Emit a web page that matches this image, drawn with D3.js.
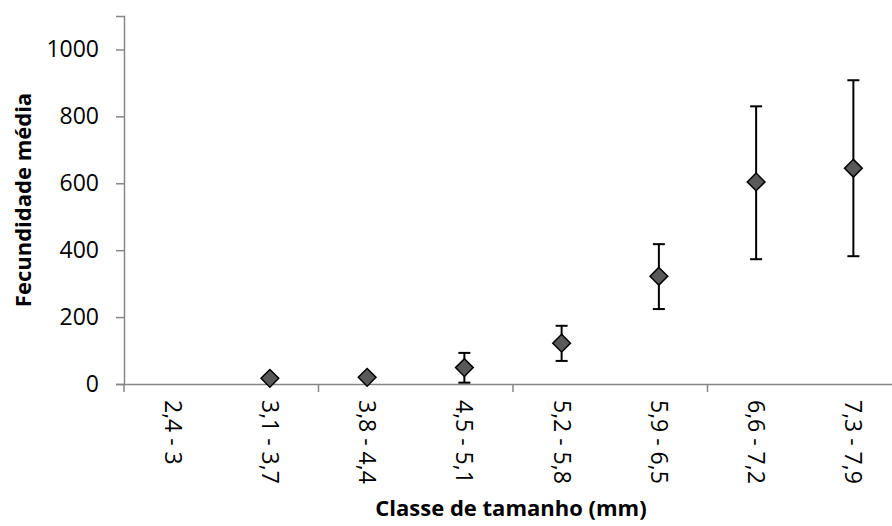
<!DOCTYPE html>
<html>
<head>
<meta charset="utf-8">
<script src="https://cdn.jsdelivr.net/npm/d3@7"></script>
<style>
  body { margin: 0; background: #fff; }
  text { font-family: "Open Sans", sans-serif; fill: #000; }
</style>
</head>
<body>
<div id="chart"></div>
<script>
// size classes (mm)
var classes = ["2,4 - 3", "3,1 - 3,7", "3,8 - 4,4", "4,5 - 5,1", "5,2 - 5,8", "5,9 - 6,5", "6,6 - 7,2", "7,3 - 7,9"];
// mean fecundity, null where no value
var mean  = [null, 17, 20, 49, 122, 322, 604, 645];
var upper = [null, null, null, 93, 174, 418, 830, 908];
var lower = [null, null, null, 4, 69, 224, 373, 382];
var yTicks = [0, 200, 400, 600, 800, 1000];

var W = 892, H = 526;
var mLeft = 124, mRight = 902, mTop = 16, mBottom = 384;

var svg = d3.select('#chart').append('svg')
  .attr('width', W)
  .attr('height', H);

var x = d3.scaleBand().domain(classes).range([mLeft, mRight]);
var y = d3.scaleLinear().domain([0, 1100]).range([mBottom, mTop]);

// y axis
var yAxis = svg.append('g')
  .attr('transform', 'translate(' + mLeft + ',0)')
  .call(d3.axisLeft(y).tickValues(yTicks).tickFormat(d3.format('d')).tickSize(8).tickPadding(17));
yAxis.select('.domain').attr('stroke', '#868686').attr('stroke-width', 1.5);
yAxis.selectAll('.tick line').attr('stroke', '#868686').attr('stroke-width', 1.5);
yAxis.selectAll('.tick text')
  .style('font-size', '23px')
  .style('font-family', '"Open Sans", sans-serif')
  .attr('fill', '#000');

// x axis line
var xAxis = svg.append('g')
  .attr('transform', 'translate(0,' + mBottom + ')')
  .call(d3.axisBottom(x).tickSize(0).tickPadding(0));
xAxis.select('.domain').attr('stroke', '#868686').attr('stroke-width', 1.5);
xAxis.selectAll('.tick text')
  .style('font-size', '23px')
  .style('font-family', '"Open Sans", sans-serif')
  .attr('fill', '#000')
  .attr('text-anchor', 'start')
  .attr('y', 0)
  .attr('dy', '0.35em')
  .attr('transform', 'translate(0,16) rotate(90)');

// tick marks every second class boundary
var bounds = classes.filter(function(d, i){ return i % 2 === 0; }).map(function(d){ return x(d); });
bounds.push(x.range()[1]);
svg.append('g').selectAll('line')
  .data(bounds)
  .enter().append('line')
  .attr('x1', function(d){ return d; })
  .attr('x2', function(d){ return d; })
  .attr('y1', mBottom)
  .attr('y2', mBottom + 8)
  .attr('stroke', '#868686')
  .attr('stroke-width', 1.5);

// data rows
var rows = classes.map(function(c, i){
  return {c: c, m: mean[i], hi: upper[i], lo: lower[i]};
});
var cx = function(d){ return x(d.c) + x.bandwidth() / 2; };

// error bars
var eb = svg.append('g').selectAll('g')
  .data(rows.filter(function(d){ return d.hi != null; }))
  .enter().append('g')
  .attr('stroke', '#000')
  .attr('stroke-width', 2);
eb.append('line')
  .attr('x1', cx).attr('x2', cx)
  .attr('y1', function(d){ return y(d.hi); })
  .attr('y2', function(d){ return y(d.lo); });
eb.append('line')
  .attr('x1', function(d){ return cx(d) - 6; })
  .attr('x2', function(d){ return cx(d) + 6; })
  .attr('y1', function(d){ return y(d.hi); })
  .attr('y2', function(d){ return y(d.hi); });
eb.append('line')
  .attr('x1', function(d){ return cx(d) - 6; })
  .attr('x2', function(d){ return cx(d) + 6; })
  .attr('y1', function(d){ return y(d.lo); })
  .attr('y2', function(d){ return y(d.lo); });

// diamonds
var diamond = d3.symbol().type(d3.symbolDiamond2).size(200);
svg.append('g').selectAll('path')
  .data(rows.filter(function(d){ return d.m != null; }))
  .enter().append('path')
  .attr('d', diamond)
  .attr('transform', function(d){ return 'translate(' + cx(d) + ',' + y(d.m) + ')'; })
  .attr('fill', '#595959')
  .attr('stroke', '#000')
  .attr('stroke-width', 1.5);

// axis titles
svg.append('text')
  .attr('x', 511)
  .attr('y', 516)
  .attr('text-anchor', 'middle')
  .style('font-size', '22px')
  .style('font-weight', 'bold')
  .text('Classe de tamanho (mm)');

svg.append('text')
  .attr('transform', 'translate(31,200) rotate(-90)')
  .attr('text-anchor', 'middle')
  .style('font-size', '22px')
  .style('font-weight', 'bold')
  .text('Fecundidade média');
</script>
</body>
</html>
